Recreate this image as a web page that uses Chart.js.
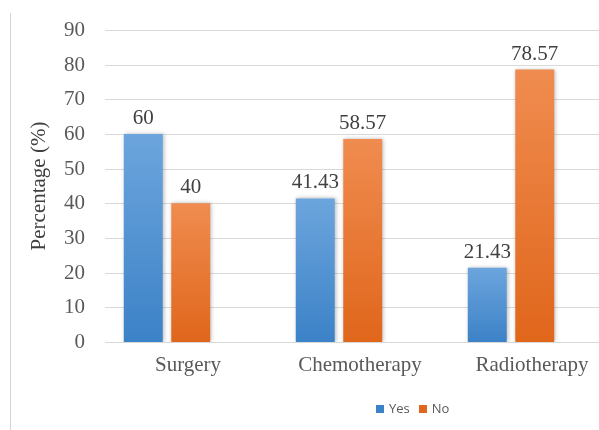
<!DOCTYPE html>
<html>
<head>
<meta charset="utf-8">
<script src="https://cdn.jsdelivr.net/npm/chart.js@4.4.1/dist/chart.umd.min.js"></script>
<style>
  html, body { margin: 0; padding: 0; background: #fff; }
  #wrap { position: relative; width: 599px; height: 430px; }
  #edge { position: absolute; left: 10px; top: 13px; width: 1px; height: 417px; background: #d4d4d4; }
  #legend { position: absolute; top: 399px; left: 376px; font-family: "Open Sans", sans-serif; font-size: 13px; color: #595959; white-space: nowrap; }
  #legend span.box { display: inline-block; width: 8px; height: 8px; margin-right: 5px; vertical-align: 0px; }
  #legend span.item { margin-right: 9px; }
</style>
</head>
<body>
<div id="wrap">
  <canvas id="chart" width="599" height="430"></canvas>
  <div id="edge"></div>
  <div id="legend"></div>
</div>
<script>
  // values
  var categories = ['Surgery', 'Chemotherapy', 'Radiotherapy'];
  var yesValues = [60, 41.43, 21.43];
  var noValues = [40, 58.57, 78.57];
  var seriesNames = ['Yes', 'No'];
  var yTicks = [0, 10, 20, 30, 40, 50, 60, 70, 80, 90];

  var serif = '"Liberation Serif", "Times New Roman", serif';

  // top / bottom colours of each bar's gradient
  var blueTop = '#6ca5dd', blueBottom = '#3c82c7';
  var orangeTop = '#f08c50', orangeBottom = '#e0661b';

  function barGradient(topColor, bottomColor) {
    return function (context) {
      var chart = context.chart;
      if (!chart.chartArea || context.parsed == null) return bottomColor;
      var y = chart.scales.y;
      var top = y.getPixelForValue(context.parsed.y);
      var bottom = y.getPixelForValue(0);
      if (!isFinite(top) || top === bottom) return bottomColor;
      var g = chart.ctx.createLinearGradient(0, top, 0, bottom);
      g.addColorStop(0, topColor);
      g.addColorStop(1, bottomColor);
      return g;
    };
  }

  // horizontal grid lines (starting right of the plot's left edge) and y tick labels
  var gridPlugin = {
    id: 'gridLines',
    beforeDatasetsDraw: function (chart) {
      var ctx = chart.ctx;
      var y = chart.scales.y;
      ctx.save();
      ctx.strokeStyle = '#d9d9d9';
      ctx.lineWidth = 1;
      ctx.fillStyle = '#595959';
      ctx.font = '21px ' + serif;
      ctx.textAlign = 'right';
      ctx.textBaseline = 'middle';
      y.ticks.forEach(function (t) {
        var py = Math.round(y.getPixelForValue(t.value)) + 0.5;
        ctx.beginPath();
        ctx.moveTo(105, py);
        ctx.lineTo(599, py);
        ctx.stroke();
        ctx.fillText(String(t.value), 85, py);
      });
      ctx.restore();
    }
  };

  // soft shadow round the bars
  var shadowPlugin = {
    id: 'barShadow',
    beforeDatasetsDraw: function (chart) {
      var ctx = chart.ctx;
      ctx.save();
      ctx.shadowColor = 'rgba(0,0,0,0.28)';
      ctx.shadowBlur = 4;
      ctx.shadowOffsetX = 1;
      ctx.shadowOffsetY = 0;
    },
    afterDatasetsDraw: function (chart) {
      chart.ctx.restore();
    }
  };

  // value labels above bars
  var labelPlugin = {
    id: 'valueLabels',
    afterDatasetsDraw: function (chart) {
      var ctx = chart.ctx;
      ctx.save();
      ctx.font = '21px ' + serif;
      ctx.fillStyle = '#404040';
      ctx.textAlign = 'center';
      ctx.textBaseline = 'alphabetic';
      chart.data.datasets.forEach(function (ds, i) {
        chart.getDatasetMeta(i).data.forEach(function (bar, j) {
          ctx.fillText(String(ds.data[j]), bar.x, bar.y - 10);
        });
      });
      ctx.restore();
    }
  };

  var ctx = document.getElementById('chart').getContext('2d');
  new Chart(ctx, {
    type: 'bar',
    data: {
      labels: categories,
      datasets: [
        { label: seriesNames[0], data: yesValues, backgroundColor: barGradient(blueTop, blueBottom),
          barPercentage: 0.82, categoryPercentage: 0.552 },
        { label: seriesNames[1], data: noValues, backgroundColor: barGradient(orangeTop, orangeBottom),
          barPercentage: 0.82, categoryPercentage: 0.552 }
      ]
    },
    options: {
      responsive: false,
      animation: false,
      layout: { padding: { top: 30, right: 2, left: 0, bottom: 0 } },
      plugins: {
        legend: { display: false },
        tooltip: { enabled: false }
      },
      scales: {
        x: {
          grid: { display: false, drawTicks: false },
          border: { display: false },
          ticks: { color: '#595959', font: { family: serif, size: 21 }, padding: 11, labelOffset: 21, maxRotation: 0 },
          afterFit: function (scale) { scale.height = 88; }
        },
        y: {
          min: 0,
          max: 90,
          afterBuildTicks: function (scale) {
            scale.ticks = yTicks.map(function (v) { return { value: v }; });
          },
          grid: { display: false, drawTicks: false },
          border: { display: false },
          ticks: { display: false },
          title: { display: true, text: 'Percentage (%)', color: '#404040', font: { family: serif, size: 21 }, padding: { top: 27 } },
          afterFit: function (scale) { scale.width = 81; }
        }
      }
    },
    plugins: [gridPlugin, shadowPlugin, labelPlugin]
  });

  // legend drawn as html below the plot
  var legend = document.getElementById('legend');
  [[seriesNames[0], blueBottom], [seriesNames[1], orangeBottom]].forEach(function (s) {
    var item = document.createElement('span');
    item.className = 'item';
    item.innerHTML = '<span class="box" style="background:' + s[1] + '"></span>' + s[0];
    legend.appendChild(item);
  });
</script>
</body>
</html>
